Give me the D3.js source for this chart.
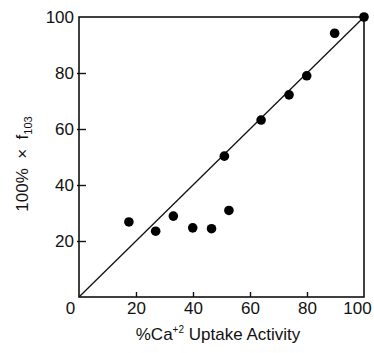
<!DOCTYPE html>
<html>
<head>
<meta charset="utf-8">
<script src="https://cdn.jsdelivr.net/npm/d3@7"></script>
<style>
  body { margin: 0; background: #fff; }
  svg text { font-family: "Liberation Sans", Arial, sans-serif; fill: #111; }
</style>
</head>
<body>
<svg width="374" height="353"></svg>
<script>
// uptake activity (%) vs 100% x f103
var uptake = [17.5, 26.9, 33.1, 39.9, 46.5, 52.6, 51, 63.9, 73.7, 79.9, 89.7, 100];
var f103 = [26.8, 23.5, 28.9, 24.7, 24.4, 30.9, 50.3, 63.2, 72.2, 79, 94.2, 100];
var xTicks = [0, 20, 40, 60, 80, 100];
var yTicks = [20, 40, 60, 80, 100];
var identity = [0, 100];

var svg = d3.select("svg");

var x = d3.scaleLinear().domain([0, 100]).range([79, 364]);
var y = d3.scaleLinear().domain([0, 100]).range([297, 17]);

// x axis
var gx = svg.append("g")
    .attr("transform", "translate(0," + y(0) + ")")
    .call(d3.axisBottom(x).tickValues(xTicks).tickSize(-5).tickSizeOuter(0).tickPadding(5));
gx.select(".domain").remove();
gx.selectAll("line").attr("stroke", "#111").attr("stroke-width", 1.4);
gx.selectAll(".tick").filter(function(d) { return d == 0 || d == 100; }).select("line").remove();
gx.selectAll("text").attr("font-size", 17)
    .attr("dx", function(d) { return d == 0 ? -9 : (d == 100 ? -7 : 0); });

// y axis
var gy = svg.append("g")
    .attr("transform", "translate(" + x(0) + ",0)")
    .call(d3.axisLeft(y).tickValues(yTicks).tickSize(-7).tickSizeOuter(0).tickPadding(5));
gy.select(".domain").remove();
gy.selectAll("line").attr("x1", -2).attr("x2", 7).attr("stroke", "#111").attr("stroke-width", 1.4);
gy.selectAll(".tick").filter(function(d) { return d == 100; }).select("line").remove();
gy.selectAll("text").attr("font-size", 17);

// frame
svg.append("rect")
    .attr("x", x(0)).attr("y", y(100))
    .attr("width", x(100) - x(0)).attr("height", y(0) - y(100))
    .attr("fill", "none").attr("stroke", "#111").attr("stroke-width", 1.6);

// identity line
svg.append("line")
    .attr("x1", x(identity[0])).attr("y1", y(identity[0]))
    .attr("x2", x(identity[1])).attr("y2", y(identity[1]))
    .attr("stroke", "#111").attr("stroke-width", 1.3);

// points
svg.selectAll("circle.pt")
    .data(uptake)
    .enter()
    .append("circle")
    .attr("class", "pt")
    .attr("cx", function(d) { return x(d); })
    .attr("cy", function(d, i) { return y(f103[i]); })
    .attr("r", 4.8)
    .attr("fill", "#000");

// x label
var xl = svg.append("text")
    .attr("x", 218).attr("y", 340)
    .attr("text-anchor", "middle")
    .attr("font-size", 17);
xl.append("tspan").text("%Ca");
xl.append("tspan").attr("font-size", 10).attr("dy", -7).text("+2");
xl.append("tspan").attr("dy", 7).text(" Uptake Activity");

// y label
var yl = svg.append("text")
    .attr("transform", "translate(28,164) rotate(-90)")
    .attr("text-anchor", "middle")
    .attr("font-size", 17);
yl.append("tspan").text("100%\u00a0\u00a0×\u00a0\u00a0f");
yl.append("tspan").attr("font-size", 11).attr("dy", 4).text("103");
</script>
</body>
</html>
